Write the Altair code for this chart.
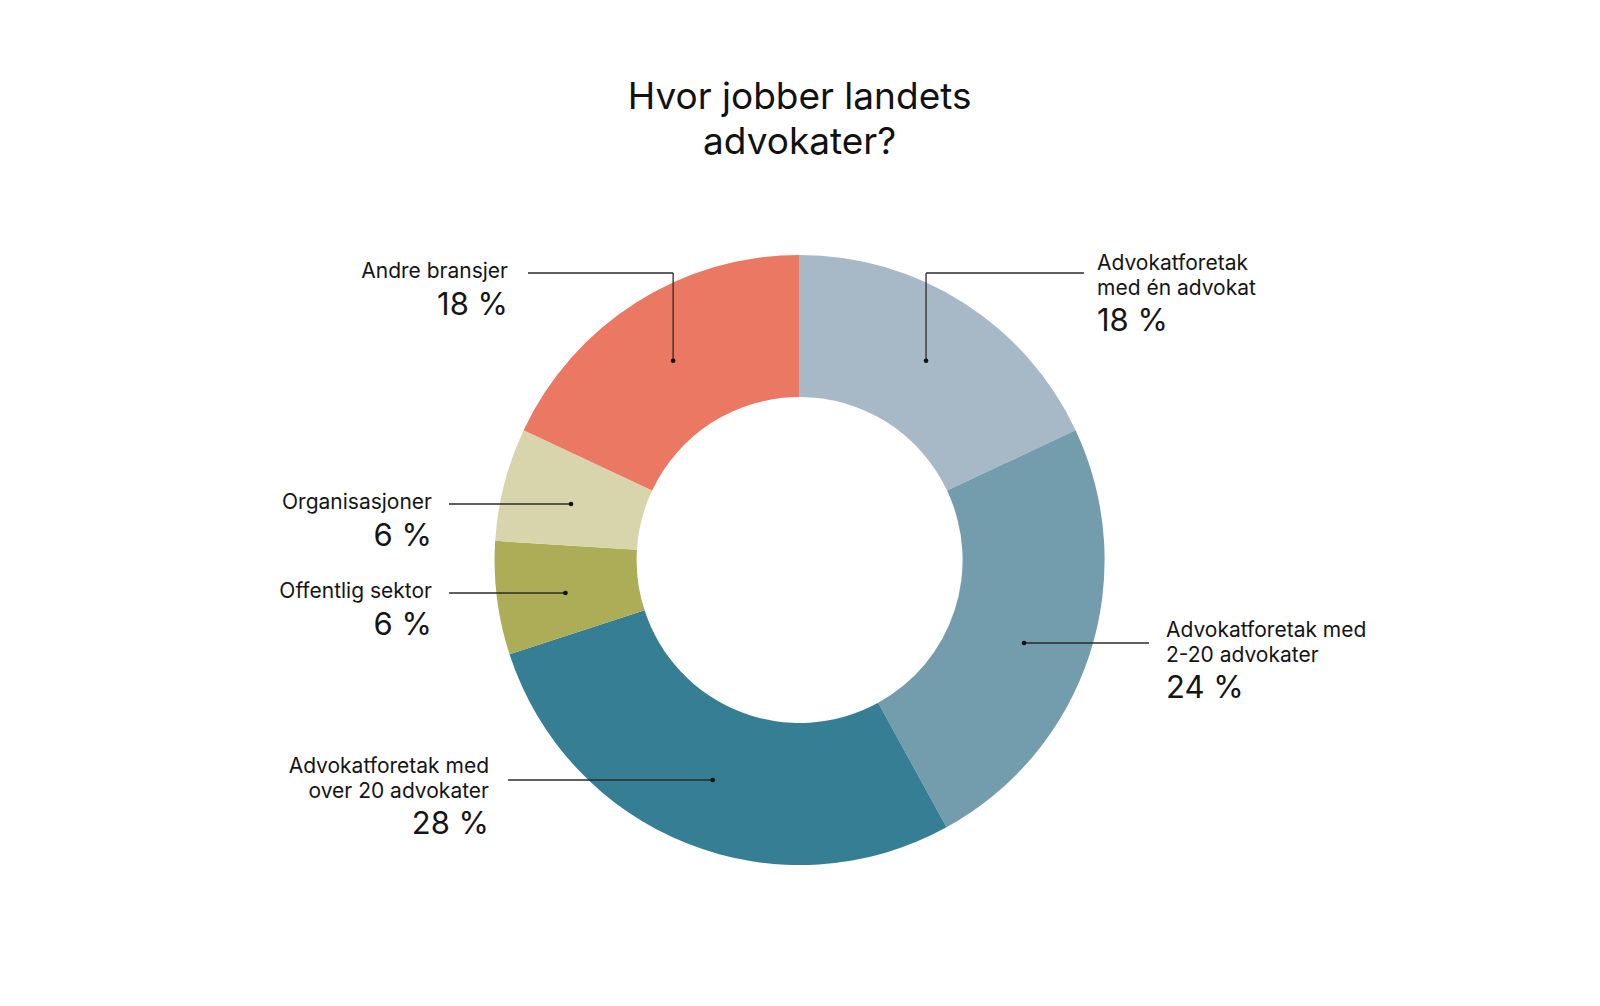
import math
import altair as alt
import pandas as pd

# ---------------- data ----------------
categories = [
    "Advokatforetak med én advokat",
    "Advokatforetak med 2-20 advokater",
    "Advokatforetak med over 20 advokater",
    "Offentlig sektor",
    "Organisasjoner",
    "Andre bransjer",
]
values = [18, 24, 28, 6, 6, 18]
pct_labels = ["18 %", "24 %", "28 %", "6 %", "6 %", "18 %"]
label_lines = [
    ["Advokatforetak", "med én advokat"],
    ["Advokatforetak med", "2-20 advokater"],
    ["Advokatforetak med", "over 20 advokater"],
    ["Offentlig sektor"],
    ["Organisasjoner"],
    ["Andre bransjer"],
]
title_lines = ["Hvor jobber landets", "advokater?"]
colors = ["#A7B9C6", "#739CAD", "#367E94", "#ADAC57", "#D8D5AD", "#EA7862"]

# ---------------- layout (page pixels) ----------------
W, H = 1584, 990
OX, OY = 8, 8
CX, CY = 799.6, 560.0
R_OUT, R_IN = 305, 163
R_DOT = 236
FONT = "Inter"
LABEL_SIZE = 21
PCT_SIZE = 31
TITLE_SIZE = 37
LINE_GAP = 24.5
PCT_GAP = 36.5

# side, text x, first baseline, leader y, leader end x (near text), elbow
layout = [
    ("right", 1097, 270, 273, 1084, True),
    ("right", 1166, 637, 643, 1149, False),
    ("left", 489, 773, 780, 508, False),
    ("left", 432, 598, 593, 449, False),
    ("left", 432, 509, 504, 449, False),
    ("left", 508, 278, 273, 528, True),
]

slices = pd.DataFrame({"cat": categories, "value": values, "idx": list(range(len(values)))})

total = sum(values)
text_rows, seg_rows, dot_rows = [], [], []
cum = 0
for i, v in enumerate(values):
    mid = (cum + v / 2) / total * 2 * math.pi
    cum += v
    side, tx, b0, ly, lx, elbow = layout[i]
    dx = CX + R_DOT * math.sin(mid)
    dy = CY - R_DOT * math.cos(mid)
    if not elbow:
        dy = ly
    al = "right" if side == "left" else "left"
    for j, t in enumerate(label_lines[i]):
        text_rows.append({"x": tx, "y": b0 + j * LINE_GAP, "t": t, "al": al, "kind": "lab"})
    text_rows.append({"x": tx, "y": b0 + (len(label_lines[i]) - 1) * LINE_GAP + PCT_GAP,
                      "t": pct_labels[i], "al": al, "kind": "pct"})
    seg_rows.append({"x": lx, "y": ly, "x2": dx, "y2": ly})
    if elbow:
        seg_rows.append({"x": dx, "y": ly, "x2": dx, "y2": dy})
    dot_rows.append({"x": dx, "y": dy})

texts = pd.DataFrame(text_rows)
segs = pd.DataFrame(seg_rows)
dots = pd.DataFrame(dot_rows)
titles = pd.DataFrame({"t": title_lines, "x": [CX, CX], "y": [109, 154]})

xs = alt.Scale(domain=[OX, OX + W], nice=False, zero=False)
ys = alt.Scale(domain=[OY, OY + H], nice=False, zero=False, reverse=True)

arc = alt.Chart(slices).mark_arc(radius=R_OUT, innerRadius=R_IN).encode(
    theta=alt.Theta("value:Q", stack=True),
    order=alt.Order("idx:Q"),
    color=alt.Color("cat:N", scale=alt.Scale(domain=categories, range=colors), legend=None),
    x=alt.value(CX - OX),
    y=alt.value(CY - OY),
)

rules = alt.Chart(segs).mark_rule(color="#2b2b2b", strokeWidth=1.3).encode(
    x=alt.X("x:Q", scale=xs, axis=None),
    y=alt.Y("y:Q", scale=ys, axis=None),
    x2="x2:Q",
    y2="y2:Q",
)

pts = alt.Chart(dots).mark_circle(color="#111111", opacity=1, size=22).encode(
    x=alt.X("x:Q", scale=xs, axis=None),
    y=alt.Y("y:Q", scale=ys, axis=None),
)

def text_layer(df, size, align):
    return alt.Chart(df).mark_text(
        font=FONT, fontSize=size, align=align, baseline="alphabetic", color="#151515"
    ).encode(
        x=alt.X("x:Q", scale=xs, axis=None),
        y=alt.Y("y:Q", scale=ys, axis=None),
        text="t:N",
    )

layers = [arc, rules, pts]
for kind, size in (("lab", LABEL_SIZE), ("pct", PCT_SIZE)):
    for al in ("left", "right"):
        sub = texts[(texts["kind"] == kind) & (texts["al"] == al)].reset_index(drop=True)
        if len(sub):
            layers.append(text_layer(sub, size, al))

title = alt.Chart(titles).mark_text(
    font=FONT, fontSize=TITLE_SIZE, align="center", baseline="alphabetic", color="#111111"
).encode(
    x=alt.X("x:Q", scale=xs, axis=None),
    y=alt.Y("y:Q", scale=ys, axis=None),
    text="t:N",
)
layers.append(title)

chart = alt.layer(*layers).properties(
    width=W, height=H, padding=0, autosize=alt.AutoSizeParams(type="none"), background="white"
).configure_view(strokeWidth=0)

chart.save("out.html", embed_options={"renderer": "svg", "actions": False})
